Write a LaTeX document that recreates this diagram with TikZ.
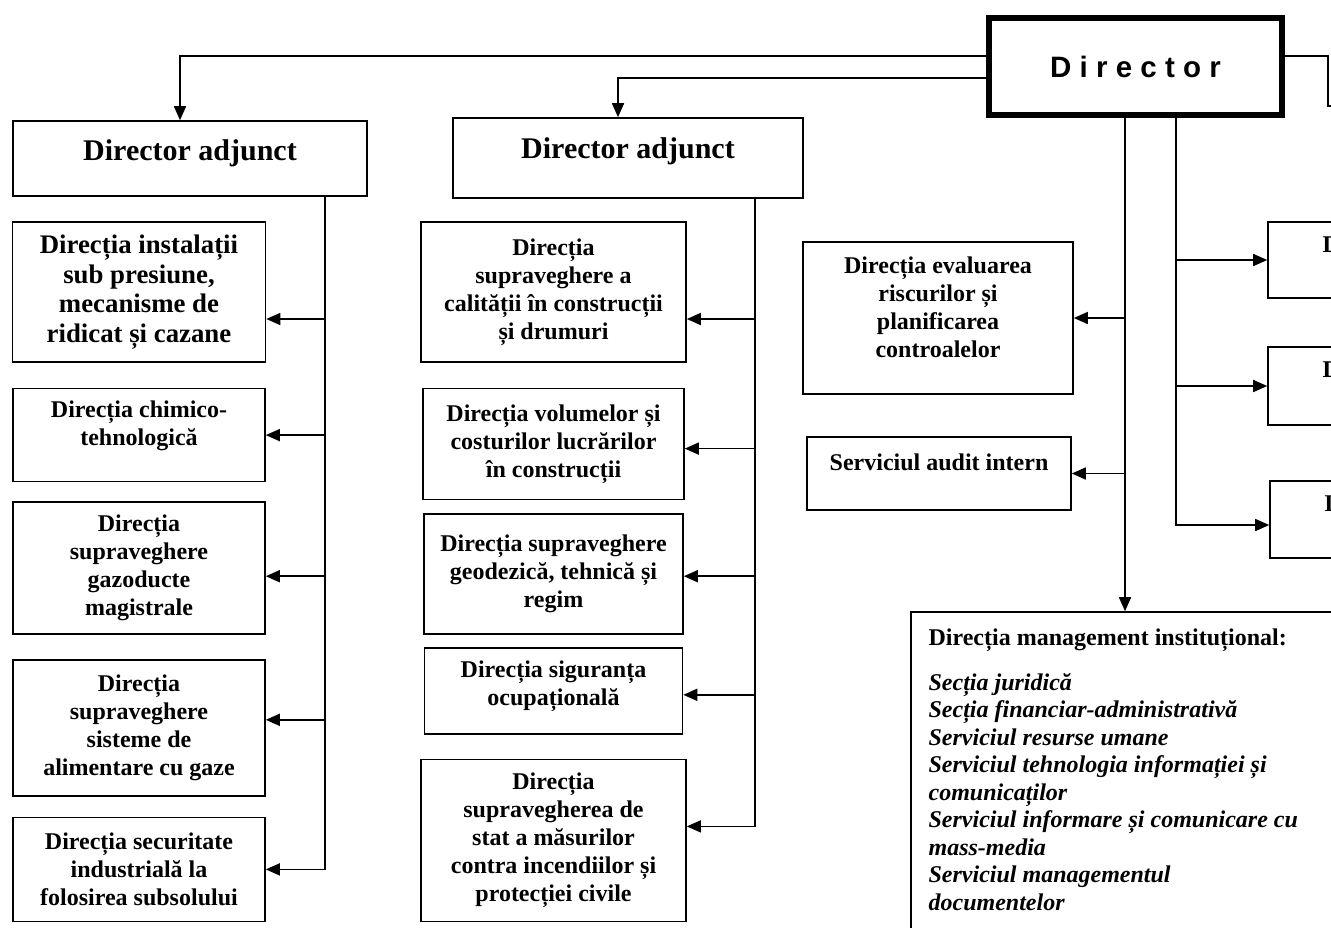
\documentclass[tikz,border=0pt]{standalone}
\usepackage{fontspec}
\setmainfont{Liberation Serif}
\newfontfamily\dirfont{Liberation Sans}[LetterSpace=28]
\usetikzlibrary{arrows.meta,positioning}

\begin{document}
\begin{tikzpicture}[
    x=0.5pt, y=-0.5pt,
    every node/.style={font=\fontsize{12}{14}\selectfont\bfseries},
    unitbox/.style={draw, line width=0.8pt, align=center, inner sep=2pt},
    adjbox/.style={unitbox, font=\fontsize{15}{18}\selectfont\bfseries, text height=10pt},
    dirbox/.style={draw, line width=3pt, font=\dirfont\fontsize{14.75}{18}\selectfont\bfseries},
    arrstyle/.style={-{Triangle[length=7pt, width=6pt]}, line width=0.8pt},
    linkstyle/.style={line width=0.8pt},
    cutlabel/.style={anchor=north west, inner sep=0pt, xshift=27.5pt, yshift=-7.5pt}
]
\useasboundingbox (0,0) rectangle (1331,927);

% Director
\node[dirbox, minimum width=146.5pt, minimum height=48.5pt] (dir) at (1135.5,66.5) {Director};

% Deputy directors
\node[adjbox, minimum width=177pt, minimum height=37.5pt, text depth=8.5pt] (adj1) at (190,158.5) {Director adjunct};
\node[adjbox, minimum width=175pt, minimum height=40pt, text depth=10pt] (adj2) at (628,158) {Director adjunct};
\draw[arrstyle] ([yshift=5.25pt]dir.west) -| ([xshift=-5pt]adj1.north);
\draw[arrstyle] ([yshift=-5.75pt]dir.west) -| ([xshift=-5pt]adj2.north);
\coordinate (offright) at (1345,106);
\draw[linkstyle] ([yshift=5.25pt]dir.east) -| ([xshift=-8.5pt]offright) -- (offright);

% Left column
\node[unitbox, minimum width=126.5pt, minimum height=70pt, font=\fontsize{13.4}{14.85}\selectfont\bfseries] (l1) at (139,292) {Direcția instalații\\sub presiune,\\mecanisme de\\ridicat și cazane};
\node[unitbox, minimum width=126pt, minimum height=46.5pt, text depth=11.5pt, below=12.5pt of l1] (l2) {Direcția chimico-\\tehnologică};
\node[unitbox, minimum width=126pt, minimum height=66pt, below=9.5pt of l2] (l3) {Direcția\\supraveghere\\gazoducte\\magistrale};
\node[unitbox, minimum width=126pt, minimum height=68pt, below=12pt of l3] (l4) {Direcția\\supraveghere\\sisteme de\\alimentare cu gaze};
\node[unitbox, minimum width=126pt, minimum height=52pt, below=10pt of l4] (l5) {Direcția securitate\\industrială la\\folosirea subsolului};
\draw[arrstyle] ([xshift=67.5pt]adj1.south) |- ([yshift=-13.5pt]l1.east);
\draw[arrstyle] ([xshift=67.5pt]adj1.south) |- (l2.east);
\draw[arrstyle] ([xshift=67.5pt]adj1.south) |- ([yshift=-4pt]l3.east);
\draw[arrstyle] ([xshift=67.5pt]adj1.south) |- ([yshift=4pt]l4.east);
\draw[arrstyle] ([xshift=67.5pt]adj1.south) |- (l5.east);

% Middle column
\node[unitbox, minimum width=132.5pt, minimum height=70pt] (m1) at (553.5,292) {Direcția\\supraveghere a\\calității în construcții\\și drumuri};
\node[unitbox, minimum width=130.5pt, minimum height=55.5pt, below=12.5pt of m1] (m2) {Direcția volumelor și\\costurilor lucrărilor\\în construcții};
\node[unitbox, minimum width=129.5pt, minimum height=60pt, below=6.5pt of m2] (m3) {Direcția supraveghere\\geodezică, tehnică și\\regim};
\node[unitbox, minimum width=129pt, minimum height=43pt, text depth=7.5pt, below=6pt of m3] (m4) {Direcția siguranța\\ocupațională};
\node[unitbox, minimum width=132.5pt, minimum height=81pt, below=12pt of m4] (m5) {Direcția\\supravegherea de\\stat a măsurilor\\contra incendiilor și\\protecției civile};
\draw[arrstyle] ([xshift=63.5pt]adj2.south) |- ([yshift=-13.5pt]m1.east);
\draw[arrstyle] ([xshift=63.5pt]adj2.south) |- ([yshift=-2.25pt]m2.east);
\draw[arrstyle] ([xshift=63.5pt]adj2.south) |- ([yshift=-1pt]m3.east);
\draw[arrstyle] ([xshift=63.5pt]adj2.south) |- ([yshift=-2pt]m4.east);
\draw[arrstyle] ([xshift=63.5pt]adj2.south) |- ([yshift=7pt]m5.east);

% Units under the director
\node[unitbox, minimum width=135pt, minimum height=76pt, text depth=10.5pt] (eval) at (938,318) {Direcția evaluarea\\riscurilor și\\planificarea\\controalelor};
\node[unitbox, minimum width=132pt, minimum height=36.5pt, text height=8pt, text depth=10.6pt] (audit) at (939,473.5) {Serviciul audit intern};
\node[unitbox, minimum width=214pt, minimum height=164pt] (mgmt) at (1125,776) {};
\node[anchor=north west, align=left, inner sep=0pt, xshift=9pt, yshift=-8.5pt,
      font=\fontsize{12}{13.75}\selectfont\bfseries\itshape] (mgmtlist) at (mgmt.north west)
  {\upshape Direcția management instituțional:\\[8.75pt]
   Secția juridică\\
   Secția financiar-administrativă\\
   Serviciul resurse umane\\
   Serviciul tehnologia informației și\\
   comunicaților\\
   Serviciul informare și comunicare cu\\
   mass-media\\
   Serviciul managementul\\
   documentelor};
\draw[arrstyle] (mgmt.north |- dir.south) -- (mgmt.north);
\draw[arrstyle] (mgmt.north |- eval.east) -- (eval.east);
\draw[arrstyle] (mgmt.north |- audit.east) -- (audit.east);

% Boxes cut at the right edge
\node[unitbox, minimum width=66pt, minimum height=38pt] (r1) at (1334,260) {};
\node[unitbox, minimum width=66pt, minimum height=39pt] (r2) at (1334,386) {};
\node[unitbox, minimum width=65pt, minimum height=38.5pt] (r3) at (1335,519.5) {};
\node[cutlabel] (r1d) at (r1.north west) {D};
\node[cutlabel] (r2d) at (r2.north west) {D};
\node[cutlabel] (r3d) at (r3.north west) {D};
\draw[arrstyle] ([xshift=20.25pt]dir.south) |- (r1.west);
\draw[arrstyle] ([xshift=20.25pt]dir.south) |- (r2.west);
\draw[arrstyle] ([xshift=20.25pt]dir.south) |- ([yshift=-2.75pt]r3.west);
\end{tikzpicture}
\end{document}
